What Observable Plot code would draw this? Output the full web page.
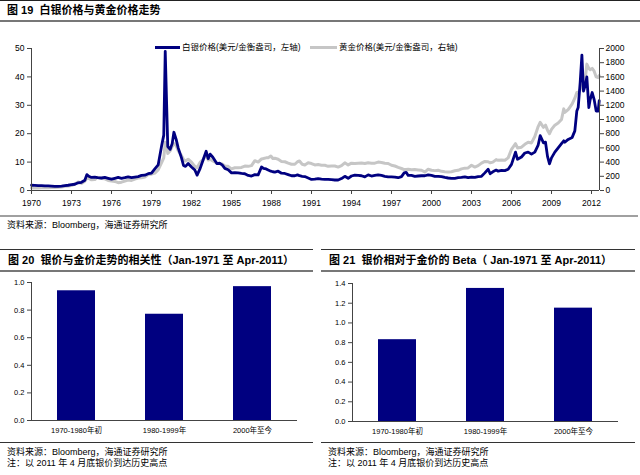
<!DOCTYPE html>
<html><head><meta charset="utf-8">
<script src="https://cdn.jsdelivr.net/npm/d3@7"></script>
<script src="https://cdn.jsdelivr.net/npm/@observablehq/plot@0.6"></script>
<style>
body{margin:0;background:#fff;}
#wrap{position:relative;width:640px;height:475px;overflow:hidden;background:#fff;font-family:"Liberation Sans","Noto Sans CJK SC",sans-serif;color:#000;}
.abs{position:absolute;white-space:nowrap;}
.title{font-weight:bold;font-size:11px;line-height:11px;}
.small{font-size:9px;line-height:9px;}
.leg{font-size:8.5px;line-height:9px;}
.hl{position:absolute;}
</style></head>
<body><div id="wrap"></div>
<script>
// ---------- data ----------
const years = [1970.0,1970.25,1970.5,1970.75,1971.0,1971.25,1971.5,1971.75,1972.0,1972.25,1972.5,1972.75,
1973.0,1973.25,1973.5,1973.75,1974.0,1974.15,1974.3,1974.5,1974.75,1974.95,1975.25,1975.5,1975.75,
1976.0,1976.25,1976.5,1976.75,1977.0,1977.25,1977.5,1977.75,1978.0,1978.25,1978.5,1978.75,
1979.0,1979.25,1979.5,1979.75,1979.92,1980.03,1980.12,1980.22,1980.4,1980.55,1980.68,1980.85,
1981.0,1981.25,1981.4,1981.55,1981.75,1982.0,1982.25,1982.42,1982.65,1982.85,1983.0,1983.1,1983.25,1983.4,1983.6,1983.9,
1984.1,1984.3,1984.5,1984.75,1985.0,1985.25,1985.5,1985.75,1986.0,1986.25,1986.5,1986.75,
1987.0,1987.25,1987.4,1987.6,1987.75,1987.95,1988.1,1988.25,1988.5,1988.75,1989.0,1989.25,1989.5,1989.75,1989.95,
1990.1,1990.3,1990.5,1990.75,1991.0,1991.25,1991.5,1991.75,1992.0,1992.25,1992.5,1992.75,
1993.0,1993.25,1993.5,1993.75,1994.0,1994.25,1994.5,1994.75,1995.0,1995.25,1995.5,1995.75,
1996.0,1996.25,1996.5,1996.75,1997.0,1997.25,1997.5,1997.75,1997.95,1998.1,1998.25,1998.5,1998.75,
1999.0,1999.25,1999.5,1999.75,2000.0,2000.25,2000.5,2000.75,2001.0,2001.25,2001.5,2001.75,
2002.0,2002.25,2002.5,2002.75,2003.0,2003.25,2003.5,2003.75,2004.0,2004.25,2004.4,2004.6,2004.85,
2005.0,2005.25,2005.5,2005.75,2006.0,2006.3,2006.45,2006.75,2007.0,2007.25,2007.5,2007.75,
2008.0,2008.15,2008.4,2008.55,2008.7,2008.85,2009.0,2009.25,2009.5,2009.75,2009.92,
2010.0,2010.25,2010.55,2010.75,2010.9,2011.0,2011.15,2011.28,2011.4,2011.55,2011.65,2011.8,2011.9,
2012.05,2012.2,2012.35,2012.5,2012.58];
const silver = [1.85,1.8,1.7,1.75,1.6,1.65,1.55,1.45,1.45,1.55,1.7,1.85,
2.05,2.2,2.7,2.9,3.6,5.6,5.0,4.6,4.7,4.5,4.4,4.6,4.3,
4.0,4.3,4.6,4.3,4.5,4.8,4.5,4.7,4.9,5.3,5.4,5.9,
6.1,7.6,9.0,15.5,19.5,49.0,33.0,15.5,14.5,16.5,20.5,18.0,
15.0,11.5,8.8,8.5,9.5,8.3,7.2,5.4,7.8,10.5,12.5,13.8,11.2,12.8,11.7,9.5,
9.6,9.0,7.8,7.3,6.2,6.3,6.2,6.0,5.9,5.3,5.1,5.6,
5.5,8.3,7.8,7.6,7.2,6.8,6.6,6.5,6.8,6.1,6.0,5.6,5.2,5.2,5.5,
5.2,5.0,4.9,4.4,3.9,4.0,4.2,4.0,3.9,3.9,3.8,3.7,
3.7,4.2,5.0,4.3,5.1,5.4,5.3,5.2,4.8,5.5,5.1,5.3,
5.5,5.3,5.0,4.8,4.8,4.7,4.5,4.9,6.2,6.4,5.3,5.3,5.0,
5.1,5.2,5.2,5.5,5.3,5.0,5.0,4.9,4.6,4.4,4.3,4.3,
4.5,4.6,4.8,4.5,4.7,4.6,4.9,5.0,6.2,7.5,5.9,6.6,7.2,
6.8,7.1,7.0,7.5,9.2,13.5,11.0,11.8,13.2,13.5,12.8,13.5,
16.0,19.3,16.8,17.0,12.0,9.4,11.5,13.5,15.0,16.5,17.5,
17.0,18.0,18.7,21.0,28.0,29.2,38.0,47.7,35.0,37.4,40.0,29.2,32.0,
34.5,32.0,28.0,28.0,31.6];
const gold = [35,35.5,35.3,37,38,39,41,42.5,46,49,60,64,
70,90,120,100,130,172,170,150,155,185,170,165,142,
135,128,110,117,133,148,142,160,175,178,190,225,
230,245,290,390,460,680,650,520,560,620,660,630,
560,490,440,415,440,400,340,320,400,430,480,500,430,440,415,385,
380,375,345,340,305,320,320,325,345,340,350,420,
400,445,450,460,460,485,450,455,440,410,405,385,370,370,405,
415,370,360,390,380,360,365,355,355,340,345,345,
330,350,390,360,385,380,385,388,380,390,385,385,
400,395,385,380,355,345,325,310,295,295,300,292,295,
290,285,260,300,285,280,285,270,265,262,265,278,
285,305,315,318,355,330,350,385,410,405,390,400,435,
425,430,425,460,580,660,600,610,650,680,670,760,
900,960,890,920,850,800,860,920,950,1000,1150,
1100,1140,1220,1300,1380,1380,1420,1470,1500,1600,1780,1720,1700,
1720,1680,1600,1590,1620];
const xTicks = [1970,1973,1976,1979,1982,1985,1988,1991,1994,1997,2000,2003,2006,2009,2012];
const leftTicks = [0,10,20,30,40,50];
const rightTicks = [0,200,400,600,800,1000,1200,1400,1600,1800,2000];
const goldRatio = 40; // right axis max 2000 vs left axis max 50

const periods = ["1970-1980年初","1980-1999年","2000年至今"];
const correlation = [0.94,0.77,0.97];
const beta = [0.83,1.35,1.15];
const corrTicks = [0,0.2,0.4,0.6,0.8,1.0];
const betaTicks = [0,0.2,0.4,0.6,0.8,1.0,1.2,1.4];

const NAVY = "#000080", GRAY = "#c6c6c6";
const FONT = "'Liberation Sans','Noto Sans CJK SC',sans-serif";
const wrapEl = document.getElementById("wrap");

function addText(html, css, cls){const d=document.createElement("div");d.className="abs "+cls;d.innerHTML=html;Object.assign(d.style,css);wrapEl.appendChild(d);return d;}
function hline(t,l,w,h,color){const d=document.createElement("div");d.className="hl";Object.assign(d.style,{top:t+"px",left:l+"px",width:w+"px",height:h+"px",background:color});wrapEl.appendChild(d);}
function place(svg,l,t){svg.style.position="absolute";svg.style.left=l+"px";svg.style.top=t+"px";wrapEl.appendChild(svg);}

// ---------- frame & texts ----------
hline(0,0,640,1,"#222");
addText("图 19&nbsp; 白银价格与黄金价格走势",{left:"7px",top:"5px"},"title");
hline(20,0,640,2,"#777");
hline(215,0,638,2,"#a0a0a0");
addText("资料来源：Bloomberg，海通证券研究所",{left:"7px",top:"221px"},"small");

// legend
hline(45.5,155,25,3.5,NAVY);
addText("白银价格(美元/金衡盎司，左轴)",{left:"182px",top:"42.5px"},"leg");
hline(45.5,310,27,3,GRAY);
addText("黄金价格(美元/金衡盎司，右轴)",{left:"339px",top:"42.5px"},"leg");

// ---------- top chart ----------
const rows = years.map((t,i)=>({t, silver:silver[i], gold:gold[i]}));
const topChart = Plot.plot({
  width:640, height:182, marginTop:18, marginBottom:22, marginLeft:31, marginRight:41,
  style:{fontFamily:FONT, fontSize:"8.5px", color:"#000", background:"transparent"},
  x:{domain:[1970,2012.6]},
  y:{domain:[0,50]},
  marks:[
    Plot.line(rows,{x:"t", y:d=>d.gold/goldRatio, stroke:GRAY, strokeWidth:3, strokeLinejoin:"round"}),
    Plot.line(rows,{x:"t", y:"silver", stroke:NAVY, strokeWidth:2.8, strokeLinejoin:"round"}),
    Plot.ruleY([0],{stroke:"#444"}),
    Plot.ruleX([1970],{stroke:"#444"}),
    Plot.ruleX([2012.6],{stroke:"#444"}),
    Plot.axisY(leftTicks,{anchor:"left", tickSize:4, tickPadding:3, tickFormat:d=>String(d), label:null, stroke:"#444"}),
    Plot.axisY(rightTicks.map(v=>v/goldRatio),{anchor:"right", tickSize:4, tickPadding:2, tickFormat:d=>String(Math.round(d*goldRatio)), label:null, stroke:"#444"}),
    Plot.axisX(xTicks,{anchor:"bottom", tickSize:4, tickPadding:5, tickFormat:d=>String(d), label:null, stroke:"#444"})
  ]
});
place(topChart,0,30);

// ---------- bottom panels ----------
function panel(l, lineW, title, values, ticks, ymax, mTop, mBottom, mRight){
  hline(248.5,l,lineW,1,"#333");
  addText(title,{left:(l+8)+"px",top:"254.5px"},"title");
  hline(270,l,lineW,1.5,"#777");
  const data = periods.map((p,i)=>({p, v:values[i]}));
  const svg = Plot.plot({
    width:320, height:168, marginTop:mTop, marginBottom:mBottom, marginLeft:31, marginRight:mRight,
    style:{fontFamily:FONT, fontSize:"7.5px", color:"#000", background:"transparent"},
    x:{domain:periods, paddingInner:0.57, paddingOuter:0.285},
    y:{domain:[0,ymax]},
    marks:[
      Plot.barY(data,{x:"p", y:"v", fill:NAVY}),
      Plot.frame({anchor:"left", stroke:"#444"}),
      Plot.ruleY([0],{stroke:"#444"}),
      Plot.axisY(ticks,{anchor:"left", tickSize:4, tickPadding:3, tickFormat:d3.format(".1f"), label:null, stroke:"#444"}),
      Plot.axisX({anchor:"bottom", tickSize:0, tickPadding:7, label:null})
    ]
  });
  place(svg,l,272);
  hline(441.5,l,lineW,1,"#333");
  addText("资料来源：Bloomberg，海通证券研究所",{left:(l+7)+"px",top:"447.5px"},"small");
  addText("注：以 2011 年 4 月底银价到达历史高点",{left:(l+7)+"px",top:"458.5px"},"small");
}
panel(0,313,"图 20&nbsp; 银价与金价走势的相关性（Jan-1971 至 Apr-2011）",correlation,corrTicks,1.0,10,20,23);
panel(321,314,"图 21&nbsp; 银价相对于金价的 Beta（ Jan-1971 至 Apr-2011）",beta,betaTicks,1.4,11,19,23);
</script>
</body></html>
